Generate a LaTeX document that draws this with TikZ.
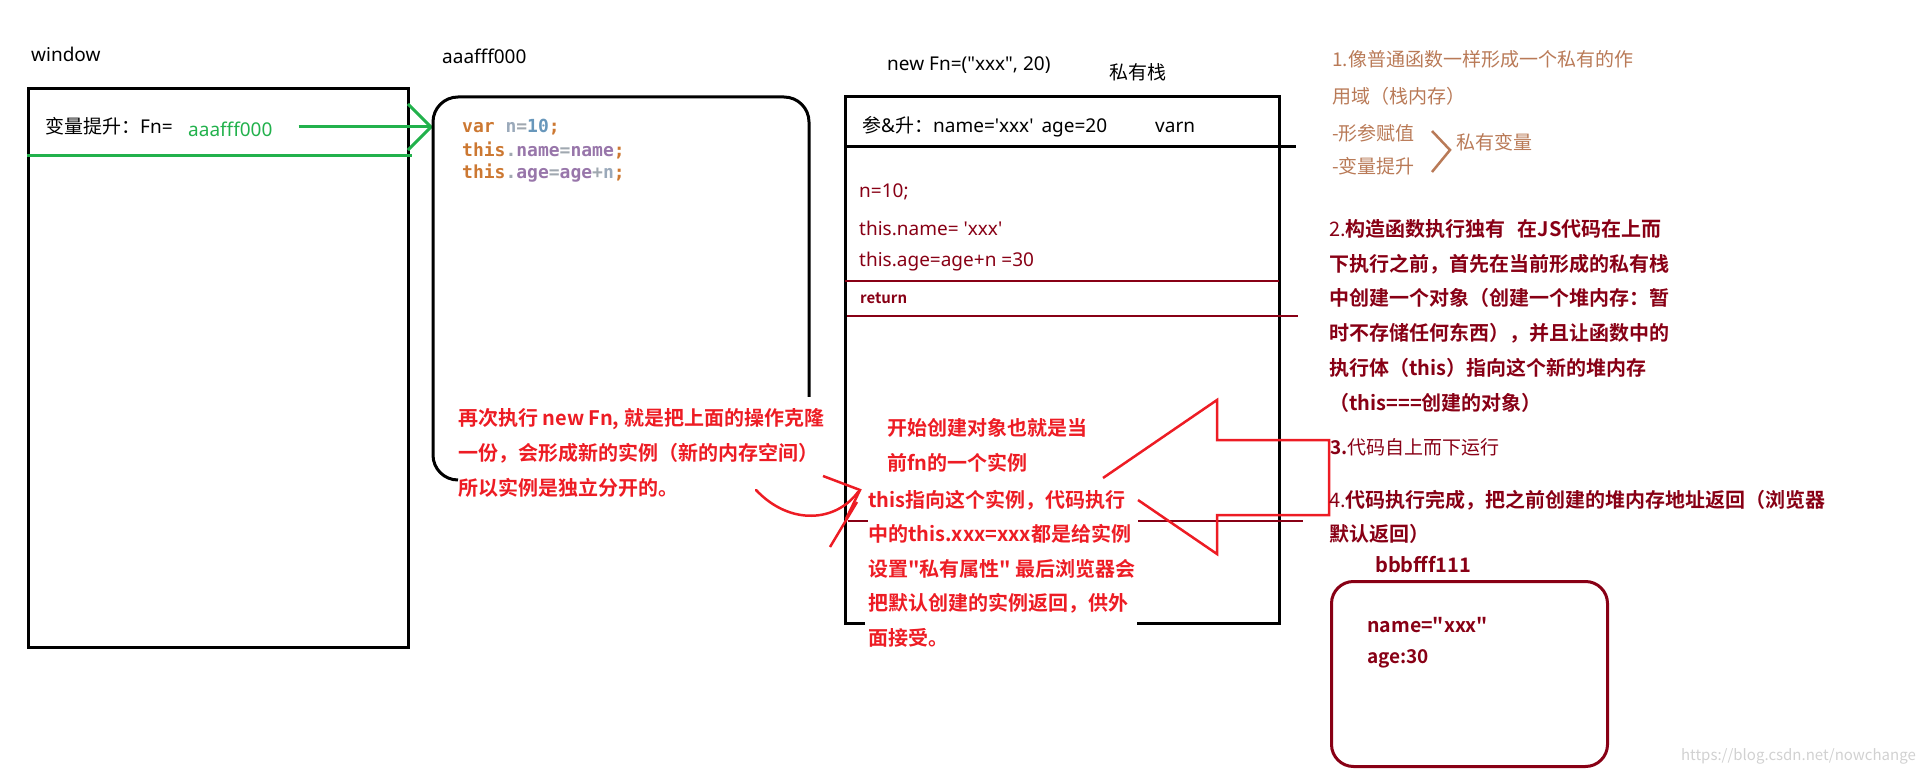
\documentclass[tikz,border=0pt]{standalone}
\usepackage{fontspec}
\setmainfont{Noto Sans CJK SC}[Ligatures=TeXOff, BoldFont={Noto Sans CJK SC Bold}]
\setmonofont{DejaVu Sans Mono}[Ligatures=TeXOff]
\newfontfamily\lat{Noto Sans}[Ligatures=TeXOff]
\usetikzlibrary{arrows.meta,positioning}
\definecolor{paintgreen}{HTML}{22B14C}
\definecolor{paintred}{HTML}{ED1C24}
\definecolor{darkred}{HTML}{880015}
\definecolor{tan}{HTML}{B97A57}
\definecolor{kwcol}{HTML}{CC7832}
\definecolor{idcol}{HTML}{9AA9BA}
\definecolor{numcol}{HTML}{6897BB}
\definecolor{propcol}{HTML}{9876AA}
\definecolor{markcol}{HTML}{A0A8B0}
\newcommand\kw[1]{\textcolor{kwcol}{#1}}
\newcommand\pr[1]{\textcolor{propcol}{#1}}
\newcommand\mk[1]{\textcolor{markcol}{#1}}

\begin{document}
\begin{tikzpicture}[x=1pt, y=-1pt,
  lbl/.style={anchor=west, inner sep=0pt, font=\fontsize{19}{23}\selectfont},
  latlbl/.style={lbl, font=\fontsize{19}{23}\selectfont\lat},
  code/.style={anchor=west, inner sep=0pt, font=\fontsize{18}{22}\selectfont\ttfamily\bfseries},
  note/.style={anchor=north west, inner sep=0pt, align=left, font=\fontsize{20}{35}\selectfont\bfseries},
  frame/.style={draw, line width=3pt},
  gline/.style={draw=paintgreen, line width=3pt},
  rline/.style={draw=paintred, line width=2.5pt, line join=miter},
  dline/.style={draw=darkred, line width=2.5pt}
]
\useasboundingbox (0,0) rectangle (1922,775);

% window
\node[latlbl] (winlbl) at (31,54) {window};
\node[frame, anchor=north west, minimum width=380pt, minimum height=559pt] (win) at (27,87) {};
\node[lbl] (hoist) at (45,126) {变量提升：{\lat Fn=}};
\node[latlbl, text=paintgreen] (fnaddr) at (188,129) {aaafff000};
\coordinate (heapin) at (433,127);
\draw[gline, -{Straight Barb[length=23pt, width=46pt]}, shorten <=26pt] (fnaddr.east |- heapin) -- (heapin);
\coordinate (gend) at (412,156);
\draw[gline] (win.west |- gend) -- (gend);

% function heap aaafff000
\node[latlbl] (heaplbl) at (442,56) {aaafff000};
\draw[frame, rounded corners=25pt] (458,480) -- (433,480) -- (433,97) -- (809,97) -- (809,397);
\node[code] (c1) at (462,127) {\kw{var} \textcolor{idcol}{n}\mk{=}\textcolor{numcol}{10}\kw{;}};
\node[code] (c2) at (462,150) {\kw{this}\mk{.}\pr{name}\mk{=}\pr{name}\kw{;}};
\node[code] (c3) at (462,173) {\kw{this}\mk{.}\pr{age}\mk{=}\pr{age}\mk{+}\textcolor{idcol}{n}\kw{;}};
\node[note, text=paintred] (again) at (458,408)
  {再次执行 new Fn, 就是把上面的操作克隆\\一份，会形成新的实例（新的内存空间）\\所以实例是独立分开的。};

% private stack
\node[latlbl] (call) at (887,65) {new Fn=("xxx", 20)};
\node[lbl] (stacklbl) at (1109,72) {私有栈};
\draw[frame] (865,623) -- (845,623) -- (845,97) -- (1279,97) -- (1279,623) -- (1137,623);
\node[lbl] (params) at (862,127) {参{\lat\&}升：{\lat name='xxx'\hspace{8pt}age=20\hspace{48pt}varn}};
\draw[frame] (845,147) -- (1296,147);
\node[latlbl, text=darkred] (s1) at (859,192) {n=10;};
\node[latlbl, text=darkred] (s2) at (859,228) {this.name= 'xxx'};
\node[latlbl, text=darkred] (s3) at (859,262) {this.age=age+n =30};
\draw[dline] (845,281) -- (1279,281);
\node[lbl, text=darkred, font=\fontsize{15}{18}\selectfont\bfseries] (ret) at (860,298) {return};
\draw[dline] (847,316) -- (1298,316);
\draw[dline] (848,521) -- (868,521);
\draw[dline] (1138,521) -- (1303,521);
\node[note, text=paintred] (inst) at (887,418) {开始创建对象也就是当\\前fn的一个实例};
\node[note, text=paintred, font=\fontsize{20}{34.5}\selectfont\bfseries] (thisnote) at (868,490)
  {this指向这个实例，代码执行\\中的this.xxx=xxx都是给实例\\设置"私有属性" 最后浏览器会\\把默认创建的实例返回，供外\\面接受。};

% red arrows
\draw[rline] (1103,478) -- (1217,400) -- (1217,440) -- (1329,440) -- (1329,515) -- (1217,515) -- (1217,554) -- (1138,500);
\draw[rline, line cap=round] (756,490) .. controls (790,526) and (836,522) .. (858,492);
\draw[rline] (823,476) -- (860,490) -- (846,519);
\draw[rline] (857,502) -- (830,547);

% notes on the right
\node[note, text=tan, font=\fontsize{19}{37}\selectfont] (n1) at (1332,50)
  {1.像普通函数一样形成一个私有的作\\用域（栈内存）};
\node[note, text=tan, font=\fontsize{19}{33}\selectfont] (n1b) at (1332,124) {-形参赋值\\-变量提升};
\draw[draw=tan, line width=2.5pt] (1432,131) -- (1450,150) -- (1432,172);
\node[lbl, text=tan] (privvar) at (1456,142) {私有变量};
\node[note, text=darkred, font=\fontsize{20}{34.8}\selectfont\bfseries] (n2) at (1329,219)
  {{\mdseries 2.}构造函数执行独有\hspace{12pt}在JS代码在上而\\下执行之前，首先在当前形成的私有栈\\中创建一个对象（创建一个堆内存：暂\\时不存储任何东西），并且让函数中的\\执行体（this）指向这个新的堆内存\\（this===创建的对象）};
\node[lbl, text=darkred] (n3) at (1330,447) {\textbf{3.}代码自上而下运行};
\node[note, text=darkred, font=\fontsize{20}{34}\selectfont\bfseries] (n4) at (1329,490)
  {{\mdseries 4.}代码执行完成，把之前创建的堆内存地址返回（浏览器\\默认返回）};

% returned object
\node[lbl, text=darkred, font=\fontsize{20}{24}\selectfont\bfseries] (objlbl) at (1375,565) {bbbfff111};
\node[draw=darkred, line width=3pt, rounded corners=22pt, anchor=north west,
      minimum width=276pt, minimum height=185pt] (obj) at (1330,580) {};
\node[lbl, text=darkred, font=\fontsize{19.5}{23}\selectfont\bfseries] (o1) at (1367,625) {name="xxx"};
\node[lbl, text=darkred, font=\fontsize{19}{23}\selectfont\bfseries] (o2) at (1367,659) {age:30};

\node[lbl, anchor=east, text=black!18, font=\fontsize{15}{18}\selectfont] (mark) at (1916,756) {https://blog.csdn.net/nowchange};
\end{tikzpicture}
\end{document}
